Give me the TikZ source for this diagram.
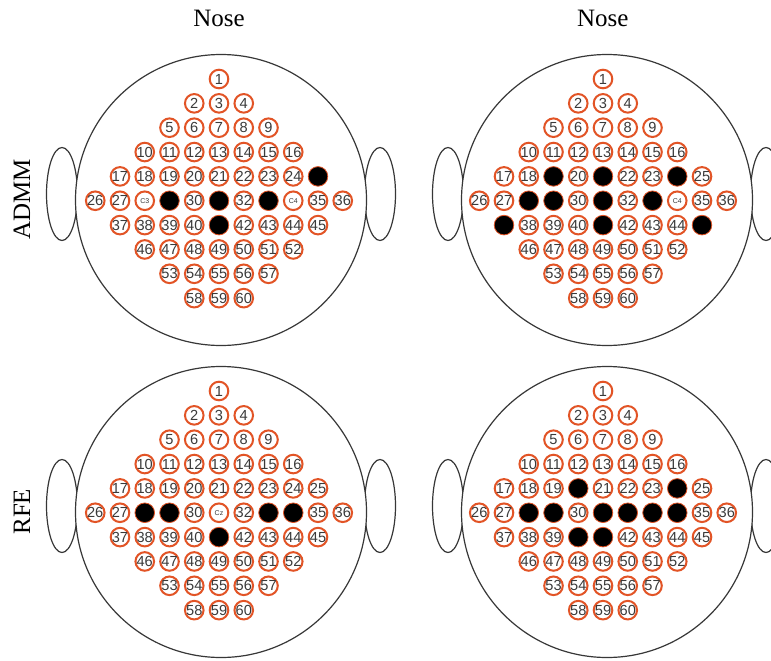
\documentclass[tikz,border=0pt]{standalone}
\usepackage{fontspec}
\setmainfont{Liberation Serif}
\setsansfont{Liberation Sans}
\definecolor{elec}{RGB}{226,84,38}
\definecolor{numgray}{RGB}{58,58,58}
\definecolor{headline}{RGB}{55,55,55}
\newif\ifeegfilled
\makeatletter
\newcommand\eegtest[2]{\edef\eeg@tmp{\noexpand\in@{,#1,}{,#2,}}\eeg@tmp\ifin@\eegfilledtrue\else\eegfilledfalse\fi}
\makeatother
\newcommand\eegsmall{\fontsize{7}{8}\selectfont}
\newcommand\elabel[1]{\makebox[0pt]{\ifnum#1=28 {\eegsmall C3}\else\ifnum#1=31 {\eegsmall Cz}\else\ifnum#1=34 {\eegsmall C4}\else#1\fi\fi\fi}}
\tikzset{
  elecnode/.style={circle, draw=elec, line width=2pt, fill=white, minimum size=18.6pt, inner sep=0pt,
    font=\sffamily\fontsize{14.6}{14.6}\selectfont, text=numgray},
  elecfilled/.style={circle, draw=elec, line width=0.8pt, fill=black, minimum size=19.6pt, inner sep=0pt},
  headstyle/.style={draw=headline, line width=1.2pt},
  titletext/.style={font=\fontsize{25}{30}\selectfont, inner sep=0pt, text=black}
}
% #1 prefix, #2 head cx, #3 head cy, #4 electrode x0, #5 electrode y0, #6 filled list
\newcommand\eeghead[6]{%
  \draw[headstyle] ({#2-159},{#3-6}) ellipse[x radius=15.5pt, y radius=46.5pt];
  \draw[headstyle] ({#2+159},{#3-6}) ellipse[x radius=15.5pt, y radius=46.5pt];
  \filldraw[headstyle, fill=white] (#2,#3) circle[radius=145.5pt];
  \foreach \r/\h/\s in {0/0/1, 1/1/2, 2/2/5, 3/3/10, 4/4/17, 5/5/26, 6/4/37, 7/3/46, 8/2/53, 9/1/58} {
    \pgfmathtruncatemacro\hh{2*\h}
    \foreach \k in {0,...,\hh} {
      \pgfmathtruncatemacro\n{\s+\k}
      \pgfmathsetmacro\ex{#4+(\k-\h)*24.75}
      \pgfmathsetmacro\ey{#5+\r*24.35}
      \eegtest{\n}{#6}
      \ifeegfilled
        \node[elecfilled] (#1-\n) at (\ex,\ey) {};
      \else
        \node[elecnode] (#1-\n) at (\ex,\ey) {\elabel{\n}};
      \fi
    }
  }
}
\begin{document}
\begin{tikzpicture}[x=1pt, y=-1pt]
\useasboundingbox (0,0) rectangle (771,661);
\clip (0,0) rectangle (771,661);
\node[titletext, anchor=base] (noseL) at (219,26.5) {Nose};
\node[titletext, anchor=base] (noseR) at (602.7,26.5) {Nose};
\node[titletext, rotate=90, anchor=base] (admm) at (30,199.5) {ADMM};
\node[titletext, rotate=90, anchor=base] (rfe) at (30,511.7) {RFE};
\eeghead{A}{221}{200}{219}{79}{25,29,31,33,41}
\eeghead{B}{607}{200}{603}{79}{19,21,24,28,29,31,33,37,41,45}
\eeghead{C}{221}{512}{219}{391}{28,29,33,34,41}
\eeghead{D}{607}{512}{603}{391}{20,24,28,29,31,32,33,34,40,41}
\end{tikzpicture}
\end{document}
